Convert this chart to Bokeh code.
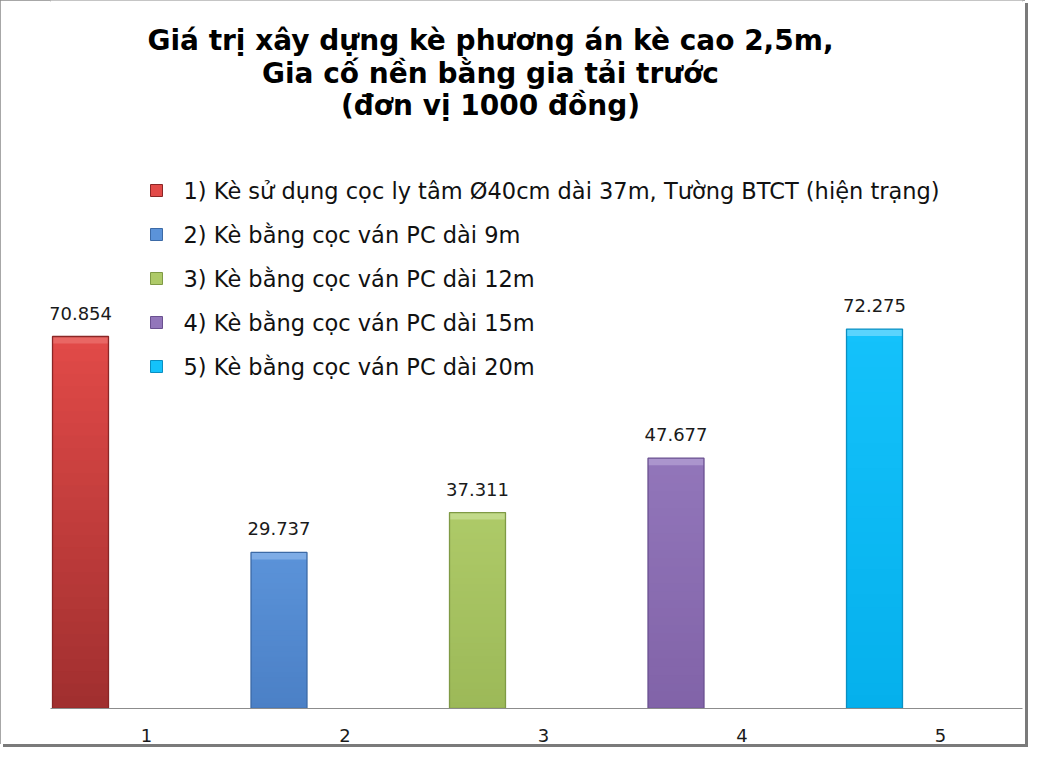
import numpy as np
from bokeh.plotting import figure
from bokeh.models import FixedTicker, ColumnDataSource
from bokeh.core.properties import value
from bokeh.embed import file_html
from bokeh.resources import INLINE

# ---------------- data ----------------
categories = [1, 2, 3, 4, 5]
values = [70.854, 29.737, 37.311, 47.677, 72.275]
series_names = [
    "1) Kè sử dụng cọc ly tâm Ø40cm dài 37m, Tường BTCT (hiện trạng)",
    "2) Kè bằng cọc ván PC dài 9m",
    "3) Kè bằng cọc ván PC dài 12m",
    "4) Kè bằng cọc ván PC dài 15m",
    "5) Kè bằng cọc ván PC dài 20m",
]
tick_labels = ["1", "2", "3", "4", "5"]
title_lines = [
    "Giá trị xây dựng kè phương án kè cao 2,5m,",
    "Gia cố nền bằng gia tải trước",
    "(đơn vị 1000 đồng)",
]

# ---------------- styles ----------------
col_top = ["#e24a48", "#5b93d9", "#aeca68", "#9276ba", "#14c2fb"]
col_bot = ["#a02f2f", "#4b80c6", "#9cb958", "#8163a8", "#05b0ec"]
col_edge = ["#8a2626", "#3c6aa6", "#7f9a45", "#6a5090", "#0a8fc2"]
col_hi = ["#e96764", "#7eace6", "#c2da8a", "#ab95cd", "#5ad4fd"]

W, H = 1025, 744
LEFT, RIGHT, TOP, BOTTOM = 50, 3, 0, 36
PXY = 5.25          # pixels per unit on y
PXX = 198.5         # pixels per category
cat1_px = 146       # canvas x of category 1 centre
x_start = 1 - (cat1_px - LEFT) / PXX
x_end = x_start + (W - RIGHT - LEFT) / PXX
y_end = (H - BOTTOM - TOP) / PXY

def dx(px):
    return x_start + (px - LEFT) / PXX

def dy(py):
    return (H - BOTTOM - py) / PXY

p = figure(width=W, height=H, output_backend="svg", toolbar_location=None,
           x_range=(x_start, x_end), y_range=(0, y_end),
           y_axis_location=None, min_border_left=LEFT, min_border_right=RIGHT,
           min_border_top=TOP, min_border_bottom=BOTTOM)
p.grid.visible = False
p.outline_line_color = None
p.background_fill_color = "white"
p.border_fill_color = "white"
p.styles = {"outline": "2px solid #8a8a8a", "outline-offset": "-2px",
            "box-shadow": "3px 3px 0 0 #7a7a7a"}

xa = p.xaxis[0]
xa.ticker = FixedTicker(ticks=categories)
xa.major_label_overrides = {c: t for c, t in zip(categories, tick_labels)}
xa.major_tick_line_color = None
xa.minor_tick_line_color = None
xa.axis_line_color = "#8c8c8c"
xa.axis_line_width = 1.2
xa.major_label_text_font = "DejaVu Sans"
xa.major_label_text_font_size = "18px"
xa.major_label_text_color = "#1a1a1a"
xa.major_label_standoff = 14

# ---------------- bars ----------------
offset = -0.3325
bw = 0.282
N = 30
ov = 0.8 / PXY
l, r, b, t, c = [], [], [], [], []
for i, (cat, v) in enumerate(zip(categories, values)):
    xc = cat + offset
    c0 = np.array([int(col_bot[i][k:k + 2], 16) for k in (1, 3, 5)])
    c1 = np.array([int(col_top[i][k:k + 2], 16) for k in (1, 3, 5)])
    for k in range(N):
        f = (k + 0.5) / N
        cc = (c0 + (c1 - c0) * f).round().astype(int)
        l.append(xc - bw / 2); r.append(xc + bw / 2)
        b.append(v * k / N); t.append(min(v, v * (k + 1) / N + ov))
        c.append("#%02x%02x%02x" % tuple(cc))
p.quad(left=l, right=r, bottom=b, top=t, fill_color=c, line_color=None)

xs = [cat + offset for cat in categories]
bar_src = ColumnDataSource(dict(x=xs, top=values, hi=col_hi, edge=col_edge,
                                lab=[f"{v:.3f}" for v in values],
                                hl=[x - bw / 2 for x in xs],
                                hr=[x + bw / 2 for x in xs],
                                hib=[v - 7 / PXY for v in values]))
# top bevel highlight
p.quad(left="hl", right="hr", bottom="hib", top="top", fill_color="hi",
       line_color=None, source=bar_src)
# edges
p.vbar(x="x", width=bw, top="top", bottom=0, fill_color=None, line_color="edge",
       line_width=1.3, source=bar_src)
# value labels
p.text(x="x", y="top", text="lab", source=bar_src, text_align="center",
       text_baseline="bottom", y_offset=-17, text_font=value("DejaVu Sans"),
       text_font_size="18px", text_color="#1a1a1a")

# ---------------- legend (drawn) ----------------
leg_y = [dy(190 + 44 * k) for k in range(len(series_names))]
p.scatter(x=[dx(156)] * len(series_names), y=leg_y, marker="square", size=12,
          fill_color=col_top, line_color=col_edge, line_width=1)
p.text(x=[dx(183)] * len(series_names), y=leg_y, text=series_names,
       text_align="left", text_baseline="middle", text_font=value("DejaVu Sans"),
       text_font_size="22.5px", text_color="#111111")

# ---------------- title (drawn) ----------------
p.text(x=[dx(490)] * 3, y=[dy(40), dy(72.5), dy(105)], text=title_lines,
       text_align="center", text_baseline="middle", text_font=value("DejaVu Sans"),
       text_font_style="bold", text_font_size="28px", text_color="#000000")

open("out.html", "w").write(file_html(p, INLINE))
